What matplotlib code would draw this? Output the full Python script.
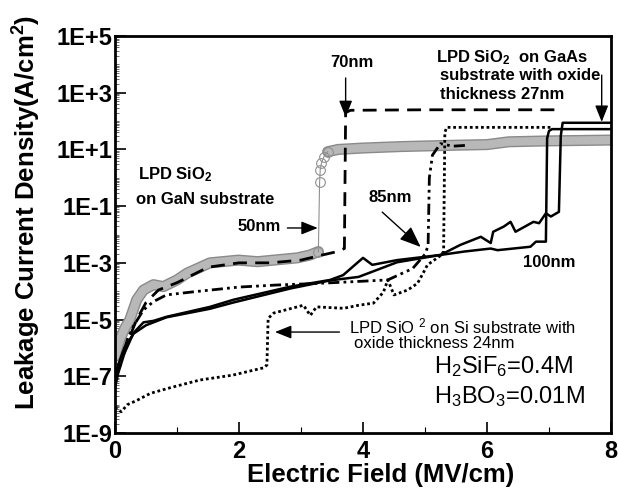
import matplotlib
matplotlib.use('Agg')

import numpy as np
import matplotlib.pyplot as plt
import matplotlib.patheffects as pe
from matplotlib.ticker import FixedLocator, NullFormatter

plt.rcParams['font.family'] = ['Liberation Sans', 'DejaVu Sans']
plt.rcParams['mathtext.default'] = 'regular'

# LPD SiO2 on GaN, 50nm (grey circles)
gan_x_low = [0.0, 0.08, 0.16, 0.24, 0.35, 0.46, 0.62, 0.78, 1.0, 1.16, 1.53, 1.99, 2.3, 2.56, 2.94, 3.15, 3.28]
gan_y_low = [5e-7, 2e-6, 5e-6, 1e-5, 5e-5, 1.1e-4, 1.7e-4, 1.45e-4, 2.5e-4, 4.3e-4, 1e-3, 1.25e-3, 1.1e-3, 1.25e-3, 1.5e-3, 1.9e-3, 2.5e-3]
gan_x_jump = [3.28, 3.30, 3.31, 3.33, 3.37, 3.43]
gan_y_jump = [2.5e-3, 0.7, 1.9, 3.3, 5.5, 8.3]
gan_x_high = [3.43, 3.6, 4.0, 4.6, 5.5, 6.0, 6.35, 7.0, 8.0]
gan_y_high = [8.3, 10, 11.2, 12.6, 14.1, 14.8, 18.6, 20, 21.4]

# 70nm (dashed)
d70_x = [0.0, 0.1, 0.2, 0.35, 0.5, 0.7, 1.0, 1.5, 2.0, 2.5, 3.0, 3.3, 3.55, 3.7, 3.72, 3.8, 5.0, 7.15]
d70_y = [1e-7, 3e-7, 1.6e-6, 1e-5, 4e-5, 1.1e-4, 2e-4, 7e-4, 1e-3, 1e-3, 1.25e-3, 1.8e-3, 2.4e-3, 3.2e-3, 200, 240, 250, 250]

# 85nm (dash-dot-dot)
d85_x = [0.0, 0.1, 0.2, 0.3, 0.46, 0.62, 0.83, 1.26, 2.0, 2.6, 3.3, 3.9, 4.4, 4.8, 5.0, 5.05, 5.07, 5.12, 5.25, 5.45, 5.68]
d85_y = [1e-7, 4e-7, 2e-6, 6e-6, 2.2e-5, 4.3e-5, 7.4e-5, 9.5e-5, 1.4e-4, 1.65e-4, 1.9e-4, 2.2e-4, 2.5e-4, 6.3e-4, 2e-3, 4e-3, 1.0, 6.3, 16, 13, 14]

# LPD SiO2 on Si, 24nm (dotted)
si_x = [0.0, 0.1, 0.2, 0.35, 0.57, 0.9, 1.37, 1.9, 2.4, 2.45, 2.47, 2.56, 3.04, 3.15, 3.25, 3.69, 3.93,
        4.17, 4.33, 4.4, 4.5, 4.72, 4.88, 4.98, 5.04, 5.25, 5.3, 5.32, 5.35, 7.05]
si_y = [8e-9, 5.6e-9, 1e-8, 1.4e-8, 2.5e-8, 4e-8, 7.4e-8, 1.1e-7, 2e-7, 2.5e-7, 1.1e-5, 1.7e-5, 3.2e-5, 1.4e-5, 2.8e-5, 2.5e-5, 3.2e-5,
        3.8e-5, 9.3e-5, 2.5e-4, 7.4e-5, 1.1e-4, 1.9e-4, 4.8e-4, 8.5e-4, 1.8e-3, 2.5e-3, 40, 60, 60]

# LPD SiO2 on GaAs, 27nm (solid, wiggly)
gaas_x = [0.0, 0.05, 0.15, 0.3, 0.46, 0.62, 0.83, 1.53, 1.91, 2.83, 3.47, 3.68, 4.0, 4.15, 4.55, 5.25, 5.57, 5.9,
          6.06, 6.1, 6.27, 6.38, 6.46, 6.75, 6.84, 6.95, 7.03, 7.16, 7.19, 7.22, 8.0]
gaas_y = [4e-8, 1.25e-7, 6.3e-7, 3.4e-6, 8e-6, 9e-6, 1.25e-5, 2.8e-5, 5e-5, 1.45e-4, 2.5e-4, 3.7e-4, 1.5e-3, 8.5e-4, 1.25e-3, 1.9e-3, 4.3e-3, 8.3e-3,
          5e-3, 1.25e-2, 1.9e-2, 2.8e-2, 1.25e-2, 2.8e-2, 2.5e-2, 5.6e-2, 4.3e-2, 6.3e-2, 30, 87, 87]

# 100nm (solid)
d100_x = [0.0, 0.05, 0.15, 0.3, 0.5, 0.83, 1.53, 1.91, 2.83, 3.47, 3.93, 4.55, 5.25, 5.63, 6.06, 6.17, 6.7, 6.79, 6.95, 6.97, 7.0, 7.05, 8.0]
d100_y = [1e-7, 2.5e-7, 1e-6, 3.2e-6, 6.3e-6, 1.2e-5, 2.4e-5, 4e-5, 1.25e-4, 2.4e-4, 3.2e-4, 1.05e-3, 1.9e-3, 2.5e-3, 3.2e-3, 2.8e-3, 3.7e-3, 5.6e-3, 5.6e-3, 25, 45, 52, 52]

y_ticks = [1e-9, 1e-7, 1e-5, 1e-3, 1e-1, 1e1, 1e3, 1e5]
y_labels = ['1E-9', '1E-7', '1E-5', '1E-3', '1E-1', '1E+1', '1E+3', '1E+5']
x_ticks = [0, 2, 4, 6, 8]

fig = plt.figure(figsize=(6.19, 4.94), dpi=100)
ax = fig.add_axes([115/619, 61/494, 496/619, 397/494])

band = [pe.withStroke(linewidth=8, foreground='#8a8a8a')]
ax.plot(gan_x_low, gan_y_low, color='#b8b8b8', lw=6, solid_capstyle='round', path_effects=band, zorder=2)
ax.plot(gan_x_high, gan_y_high, color='#b8b8b8', lw=6, solid_capstyle='round', path_effects=band, zorder=2)
ax.plot(gan_x_jump, gan_y_jump, color='#909090', lw=0.8, marker='o', ms=7, mfc='none', mec='#909090', mew=0.8, zorder=2)

ax.plot(d70_x, d70_y, color='k', lw=2, linestyle=(0, (5, 3)), zorder=3)
ax.plot(d85_x, d85_y, color='k', lw=2, linestyle=(0, (4, 1.5, 1, 1.5, 1, 1.5)), zorder=3)
ax.plot(si_x, si_y, color='k', lw=2, linestyle=(0, (1, 1)), zorder=3)
ax.plot(gaas_x, gaas_y, color='k', lw=1.8, zorder=3)
ax.plot(d100_x, d100_y, color='k', lw=1.8, zorder=3)

ax.set_yscale('log')
ax.set_xlim(0, 8)
ax.set_ylim(1e-9, 1e5)
ax.yaxis.set_major_locator(FixedLocator(y_ticks))
ax.set_yticklabels(y_labels)
minor_pos = [k * 10.0 ** e for e in range(-9, 5) for k in range(2, 10)] + [10.0 ** e for e in range(-8, 5, 2)]
ax.yaxis.set_minor_locator(FixedLocator(minor_pos))
ax.yaxis.set_minor_formatter(NullFormatter())
ax.set_xticks(x_ticks)
ax.set_xticks([1, 3, 5, 7], minor=True)

for lab in ax.get_xticklabels() + ax.get_yticklabels():
    lab.set_fontsize(17)
    lab.set_fontweight('bold')
ax.tick_params(which='both', direction='in', top=False, right=False)
ax.tick_params(which='major', length=8, width=1.2)
ax.tick_params(which='minor', length=4, width=0.8)
ax.tick_params(axis='y', which='minor', length=3, width=0.6, color='#555555')
ax.tick_params(axis='y', pad=2)
ax.tick_params(axis='x', pad=5)
for s in ax.spines.values():
    s.set_linewidth(2)

fig.text(381/619, 19/494, 'Electric Field (MV/cm)', fontsize=18.5, fontweight='bold', ha='center', va='center')
fig.text(27/619, 282/494, 'Leakage Current Density(A/cm$^2$)', fontsize=18.5, fontweight='bold',
         rotation=90, ha='center', va='center')

tk = dict(fontsize=12, fontweight='bold', va='center', ha='left')
ax.text(0.37, 10**0.1, 'LPD SiO$_2$', **tk)
ax.text(0.34, 10**-0.75, 'on GaN substrate', **tk)
ax.text(1.97, 10**-1.73, '50nm', **tk)
ax.text(3.47, 10**4.05, '70nm', **tk)
ax.text(5.17, 10**4.22, 'LPD SiO$_2$  on GaAs', **tk)
ax.text(5.25, 10**3.59, 'substrate with oxide', **tk)
ax.text(5.25, 10**2.92, 'thickness 27nm', **tk)
ax.text(4.09, 10**-0.68, '85nm', **tk)
ax.text(6.58, 10**-2.97, '100nm', **tk)
ax.text(3.78, 10**-5.26, 'LPD SiO $^2$ on Si substrate with', fontsize=12, va='center', ha='left')
ax.text(3.86, 10**-5.86, 'oxide thickness 24nm', fontsize=12, va='center', ha='left')
ax.text(5.14, 10**-6.67, 'H$_2$SiF$_6$=0.4M', fontsize=17, va='center', ha='left')
ax.text(5.14, 10**-7.73, 'H$_3$BO$_3$=0.01M', fontsize=17, va='center', ha='left')

arr = dict(arrowstyle='-|>,head_length=1.0,head_width=0.4', color='k', lw=1, shrinkA=0, shrinkB=0)
ax.annotate('', xy=(3.27, 10**-1.77), xytext=(2.78, 10**-1.77), arrowprops=arr)
ax.annotate('', xy=(3.72, 10**2.14), xytext=(3.72, 10**3.52), arrowprops=arr)
ax.annotate('', xy=(7.85, 10**1.97), xytext=(7.85, 10**3.62), arrowprops=arr)
ax.annotate('', xy=(4.93, 10**-2.44), xytext=(4.31, 10**-1.21), arrowprops=dict(arr, mutation_scale=13))
ax.annotate('', xy=(2.58, 10**-5.44), xytext=(3.62, 10**-5.44), arrowprops=arr)

fig.savefig('out.png', dpi=100)
